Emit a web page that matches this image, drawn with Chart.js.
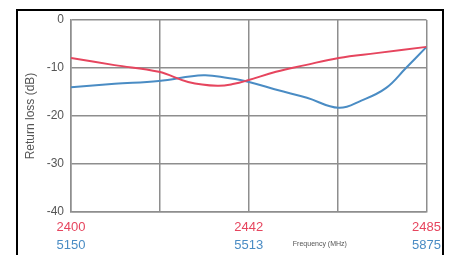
<!DOCTYPE html>
<html>
<head>
<meta charset="utf-8">
<script src="https://cdn.jsdelivr.net/npm/chart.js@4.4.1/dist/chart.umd.min.js"></script>
<style>
    body { margin: 0; background: #fff; }
    .wrap { position: relative; width: 449px; height: 255px; overflow: hidden; }
    .frame {
        position: absolute; left: 16px; top: 9px; width: 424px; height: 260px;
        border: 2px solid #000; border-bottom: none; pointer-events: none;
    }
</style>
</head>
<body>
<div class="wrap">
    <canvas id="chart" width="449" height="255"></canvas>
    <div class="frame"></div>
</div>
<script>
// 2.4 GHz band (red) - MHz / dB
const redFreq = [2400, 2410.4, 2421, 2428, 2435, 2439, 2442.5, 2449, 2456, 2464, 2473, 2485];
const redLoss = [-7.9, -9.4, -10.8, -12.9, -13.7, -13.3, -12.5, -10.8, -9.4, -7.9, -6.9, -5.6];

// 5 GHz band (blue) - MHz / dB
const blueFreq = [5150, 5239, 5329, 5420, 5470, 5513, 5571, 5631, 5696, 5742, 5792, 5833, 5875];
const blueLoss = [-14.0, -13.3, -12.7, -11.5, -12.1, -12.9, -14.6, -16.2, -18.3, -16.8, -14.2, -10.0, -5.6];

const redTicks = [2400, 2421.25, 2442.5, 2463.75, 2485];
const redTickLabels = ['2400', '', '2442', '', '2485'];
const blueTicks = [5150, 5512.5, 5875];
const blueTickLabels = ['5150', '5513', '5875'];
const yTicks = [0, -10, -20, -30, -40];

const RED = '#e6455e';
const BLUE = '#4a8cc4';
const FONT = "'Liberation Sans', Arial, sans-serif";

const freqLabel = {
    id: 'freqLabel',
    afterDraw(chart) {
        const { ctx, chartArea } = chart;
        const x2 = chart.scales.x2;
        ctx.save();
        ctx.font = '7px ' + FONT;
        ctx.fillStyle = '#555';
        ctx.textAlign = 'center';
        ctx.textBaseline = 'middle';
        ctx.fillText('Frequency (MHz)', chartArea.left + chartArea.width * 0.7, x2.top + 8);
        ctx.restore();
    }
};

const ctx = document.getElementById('chart').getContext('2d');
new Chart(ctx, {
    type: 'line',
    data: {
        datasets: [{
            label: '2.4 GHz',
            data: redFreq.map((f, i) => ({ x: f, y: redLoss[i] })),
            xAxisID: 'x',
            borderColor: RED,
            borderWidth: 2,
            pointRadius: 0,
            tension: 0.4,
            fill: false
        }, {
            label: '5 GHz',
            data: blueFreq.map((f, i) => ({ x: f, y: blueLoss[i] })),
            xAxisID: 'x2',
            borderColor: BLUE,
            borderWidth: 2,
            pointRadius: 0,
            tension: 0.4,
            fill: false
        }]
    },
    options: {
        responsive: false,
        animation: false,
        layout: { padding: { left: 0, top: 20, right: 18, bottom: 0 } },
        plugins: { legend: { display: false }, tooltip: { enabled: false } },
        scales: {
            x: {
                type: 'linear',
                position: 'bottom',
                min: 2400,
                max: 2485,
                afterBuildTicks: scale => { scale.ticks = redTicks.map(v => ({ value: v })); },
                afterFit: scale => { scale.height = 24; },
                grid: { color: '#8e8e8e', lineWidth: 1.5, drawTicks: false },
                border: { color: '#8e8e8e', width: 1.5 },
                ticks: {
                    padding: 8,
                    color: RED,
                    font: { family: FONT, size: 13 },
                    maxRotation: 0,
                    autoSkip: false,
                    callback: (v, i) => redTickLabels[i]
                }
            },
            x2: {
                type: 'linear',
                position: 'bottom',
                min: 5150,
                max: 5875,
                afterBuildTicks: scale => { scale.ticks = blueTicks.map(v => ({ value: v })); },
                afterFit: scale => { scale.height = 19; },
                grid: { display: false, drawTicks: false },
                border: { display: false },
                ticks: {
                    padding: 2,
                    color: BLUE,
                    font: { family: FONT, size: 13 },
                    maxRotation: 0,
                    autoSkip: false,
                    callback: (v, i) => blueTickLabels[i]
                }
            },
            y: {
                min: -40,
                max: 0,
                afterBuildTicks: scale => { scale.ticks = yTicks.map(v => ({ value: v })); },
                afterFit: scale => { scale.width = 71; },
                grid: { color: '#8e8e8e', lineWidth: 1.5, drawTicks: false },
                border: { color: '#8e8e8e', width: 1.5 },
                ticks: {
                    padding: 7,
                    color: '#555',
                    font: { family: FONT, size: 12 }
                },
                title: {
                    display: true,
                    text: 'Return loss (dB)',
                    color: '#555',
                    font: { family: FONT, size: 12 },
                    padding: { top: 23, bottom: 0 }
                }
            }
        }
    },
    plugins: [freqLabel]
});
</script>
</body>
</html>
